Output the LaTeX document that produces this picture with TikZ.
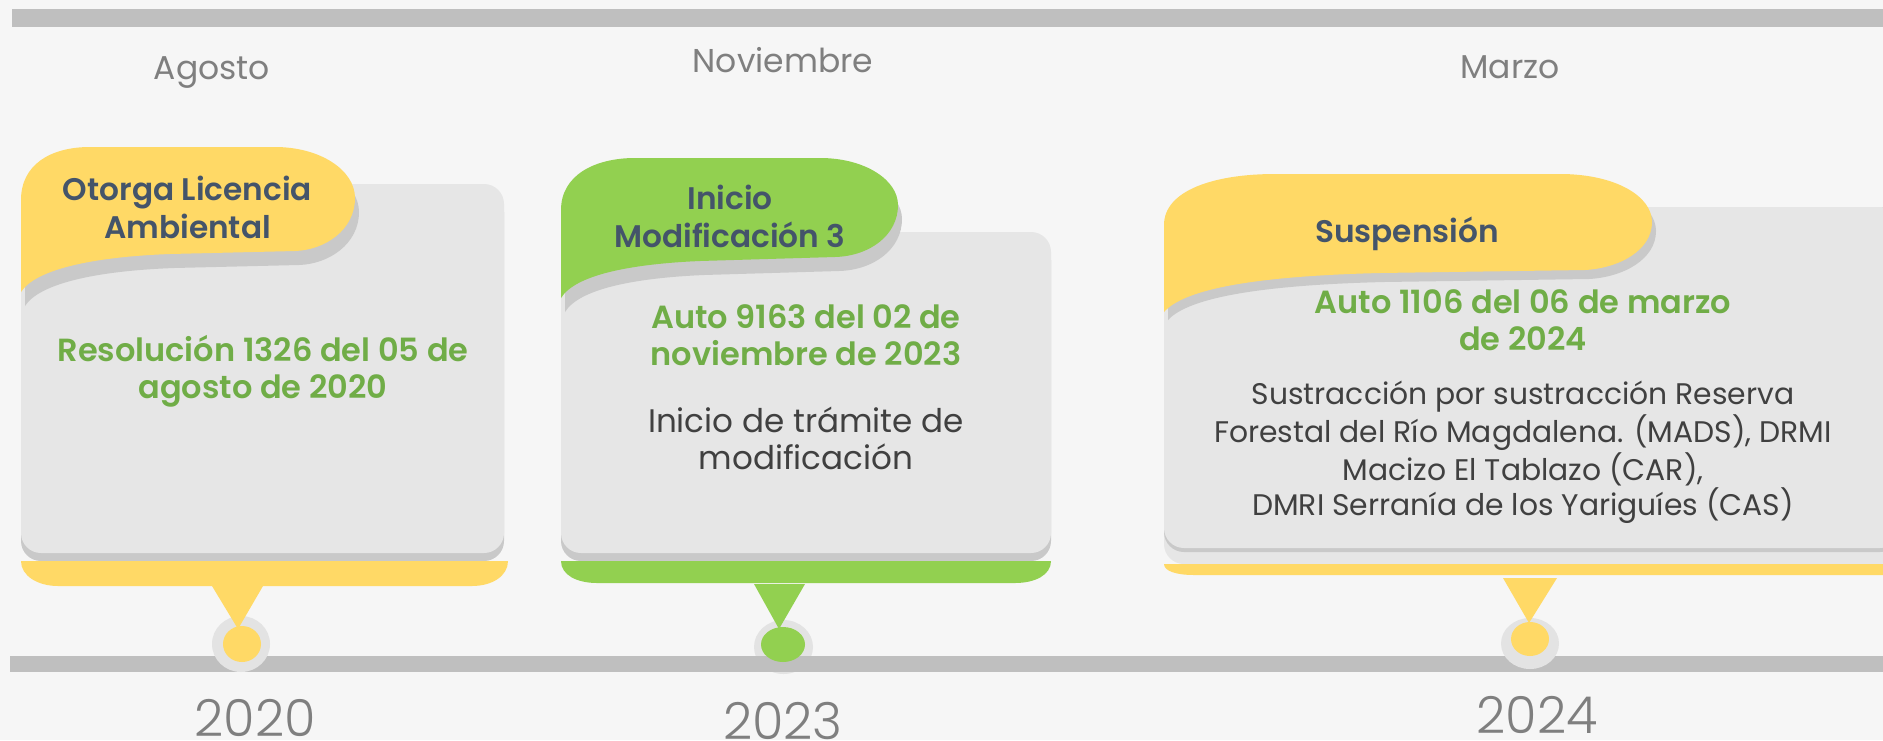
\documentclass[tikz,border=0pt]{standalone}
\usepackage{fontspec}
\setmainfont{Poppins}
\IfFontExistsTF{Poppins SemiBold}{\newfontfamily\semib{Poppins SemiBold}}{\def\semib{\bfseries}}
\IfFontExistsTF{Poppins Light}{\newfontfamily\lightf{Poppins Light}}{\def\lightf{}}
\definecolor{bgc}{HTML}{F6F6F6}
\definecolor{barc}{HTML}{BFBFBF}
\definecolor{yel}{HTML}{FFD966}
\definecolor{grn}{HTML}{92D050}
\definecolor{cardc}{HTML}{E6E6E6}
\definecolor{shadc}{HTML}{C9C9C9}
\definecolor{ringc}{HTML}{E3E3E3}
\definecolor{titlec}{HTML}{44546A}
\definecolor{greentc}{HTML}{70AD47}
\definecolor{bodyc}{HTML}{404040}
\definecolor{monthc}{HTML}{7F7F7F}
\begin{document}
\begin{tikzpicture}[x=0.5pt,y=-0.5pt,
  every node/.style={inner sep=0pt, outer sep=0pt},
  month/.style={font=\fontsize{16.5}{20}\selectfont, text=monthc, anchor=base},
  yearlbl/.style={font=\lightf\fontsize{25.5}{30}\selectfont, text=monthc, anchor=base},
  title/.style={font=\semib\fontsize{15.6}{19}\selectfont, text=titlec, align=center, anchor=base},
  greent/.style={font=\semib\fontsize{16}{18.5}\selectfont, text=greentc, align=center, anchor=base},
  body/.style={font=\fontsize{16.3}{18.5}\selectfont, text=bodyc, align=center, anchor=base},
  card/.style={fill=cardc, rounded corners=10pt},
  cardshadow/.style={fill=shadc, rounded corners=10pt},
  ring/.style={fill=ringc},
]
\useasboundingbox (0,0) rectangle (1883,740);
\clip (0,0) rectangle (1883,740);
\fill[bgc] (0,0) rectangle (1883,740);

% timeline bars
\fill[barc] (12,9) rectangle (1883,27);
% ring 2023 (behind bar)
\fill[ring] (783.5,647) ellipse [x radius=29.5, y radius=27];
\fill[barc] (10,656) rectangle (1883,672);

% months
\node[month] (m1) at (212,79) {Agosto};
\node[month] (m2) at (783,72) {Noviembre};
\node[month] (m3) at (1510,78) {Marzo};

% years
\node[yearlbl] (y1) at (255,736) {2020};
\node[yearlbl] (y2) at (783,739) {2023};
\node[yearlbl] (y3) at (1537,733) {2024};

% ===== card 2020 =====
\fill[cardshadow] (21,192) rectangle (504,561);
\fill[card] (21,184) rectangle (504,553);
\fill[shadc] (25,306) -- (25,214) .. controls (25,179) and (54,161) .. (94,161) -- (279,161) .. controls (324,161) and (359,184) .. (359,212) .. controls (359,244) and (329,264) .. (299,265) -- (174,268) .. controls (94,271) and (39,284) .. (25,306) -- cycle;
\fill[yel] (21,292) -- (21,200) .. controls (21,165) and (50,147) .. (90,147) -- (275,147) .. controls (320,147) and (355,170) .. (355,198) .. controls (355,230) and (325,250) .. (295,251) -- (170,254) .. controls (90,257) and (35,270) .. (21,292) -- cycle;
\fill[yel] (21,561) -- (508,561) .. controls (508,576) and (492,586) .. (472,586) -- (58,586) .. controls (38,586) and (21,576) .. (21,561) -- cycle;
\fill[ring] (241,644) ellipse [x radius=29, y radius=28];
\fill[yel] (242,644) ellipse [x radius=19, y radius=18];
\fill[yel] (212,586) -- (263,586) -- (238,629) -- cycle;
\node[title] (t1) at (187.5,238) {Otorga Licencia\\Ambiental};
\node[greent] (g1) at (263,398) {Resolución 1326 del 05 de\\agosto de 2020};

% ===== card 2023 =====
\fill[cardshadow] (561,240) rectangle (1051,561);
\fill[card] (561,232) rectangle (1051,553);
\fill[shadc] (565,312) -- (565,224) .. controls (565,189) and (599,172) .. (639,172) -- (824,172) .. controls (869,172) and (902,194) .. (902,219) .. controls (902,249) and (874,270) .. (839,271) -- (704,275) .. controls (634,278) and (579,289) .. (565,312) -- cycle;
\fill[grn] (561,298) -- (561,210) .. controls (561,175) and (595,158) .. (635,158) -- (820,158) .. controls (865,158) and (898,180) .. (898,205) .. controls (898,235) and (870,256) .. (835,257) -- (700,261) .. controls (630,264) and (575,275) .. (561,298) -- cycle;
\fill[grn] (561,561) -- (1051,561) .. controls (1051,575) and (1035,583) .. (1015,583) -- (597,583) .. controls (577,583) and (561,575) .. (561,561) -- cycle;
\fill[grn] (783,644.5) ellipse [x radius=22, y radius=17.5];
\fill[grn] (754,584) -- (805,584) -- (779,629) -- cycle;
\node[title] (t2) at (730,247) {Inicio\\Modificación 3};
\node[greent] (g2) at (806,365.5) {Auto 9163 del 02 de\\noviembre de 2023};
\node[body] (b2) at (806,469) {Inicio de trámite de\\modificación};

% ===== card 2024 =====
\fill[card] (1164,207) rectangle (1900,564);
\fill[cardshadow] (1164,207) rectangle (1900,552);
\fill[card] (1164,207) rectangle (1900,548);
\fill[shadc] (1168,320) -- (1168,233) .. controls (1168,198) and (1219,182) .. (1279,182) -- (1564,182) .. controls (1619,182) and (1656,205) .. (1656,231) .. controls (1656,259) and (1624,277) .. (1589,279) -- (1384,282) .. controls (1264,285) and (1189,297) .. (1168,320) -- cycle;
\fill[yel] (1164,312) -- (1164,225) .. controls (1164,190) and (1215,174) .. (1275,174) -- (1560,174) .. controls (1615,174) and (1652,196) .. (1652,222) .. controls (1652,250) and (1620,268) .. (1585,270) -- (1380,273) .. controls (1260,276) and (1185,288) .. (1164,312) -- cycle;
\fill[yel] (1164,564) -- (1900,564) -- (1900,575) -- (1194,575) .. controls (1176,575) and (1164,571) .. (1164,564) -- cycle;
\fill[ring] (1530,643.5) ellipse [x radius=29, y radius=25.5];
\fill[yel] (1530,639) ellipse [x radius=19, y radius=17];
\fill[yel] (1503,578) -- (1557,578) -- (1529,623) -- cycle;
\node[title] (t3) at (1407,242) {Suspensión};
\node[greent] (g3) at (1523,350) {Auto 1106 del 06 de marzo\\de 2024};
\node[body, font=\fontsize{14.9}{17.5}\selectfont] (b3) at (1523,515) {Sustracción por sustracción Reserva\\Forestal del Río Magdalena. (MADS), DRMI\\Macizo El Tablazo (CAR),\\DMRI Serranía de los Yariguíes (CAS)};
\end{tikzpicture}
\end{document}
